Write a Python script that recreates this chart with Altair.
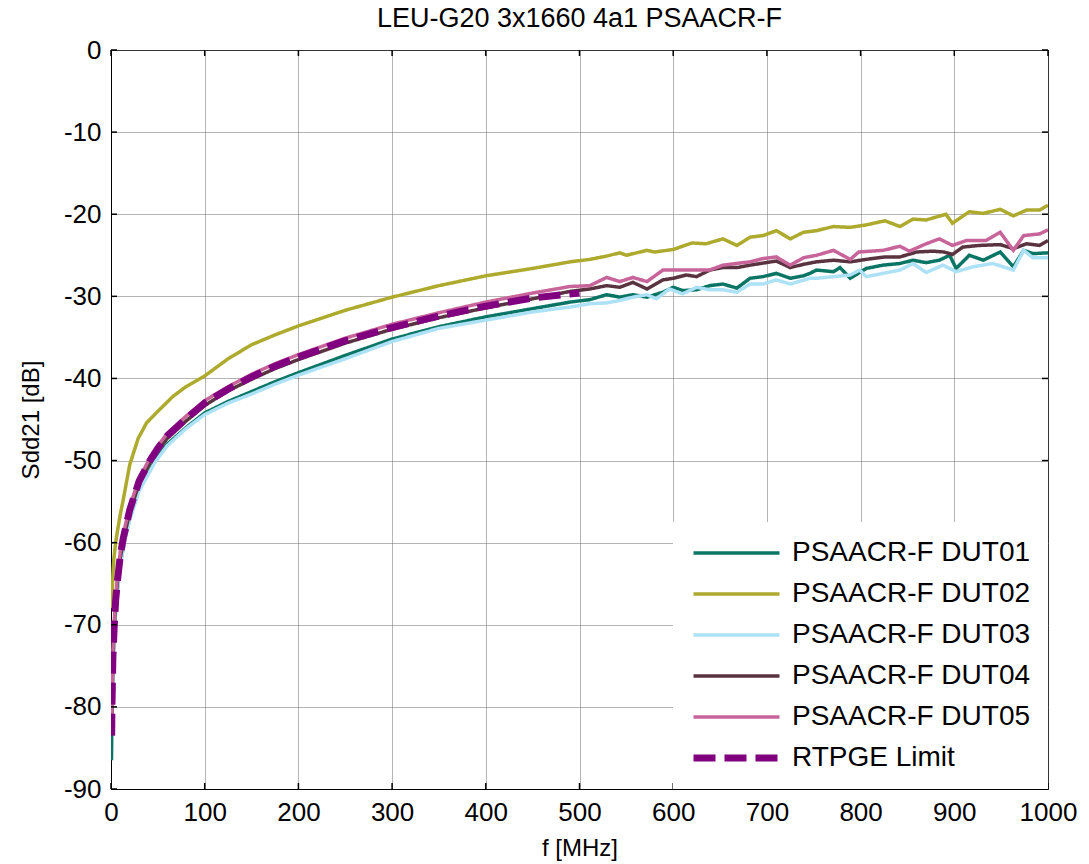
import altair as alt
import pandas as pd

names = ["PSAACR-F DUT01", "PSAACR-F DUT02", "PSAACR-F DUT03",
         "PSAACR-F DUT04", "PSAACR-F DUT05", "RTPGE Limit"]
colors = ["#0b7565", "#adaa2e", "#ade1f5", "#5a3340", "#c7659a", "#800080"]

x_ticks = [0, 100, 200, 300, 400, 500, 600, 700, 800, 900, 1000]
y_ticks = [0, -10, -20, -30, -40, -50, -60, -70, -80, -90]

f_dut01 = [0.5, 1, 2, 3.5, 5, 7, 10, 15, 20, 30, 47, 60, 80, 100, 125, 150, 175, 200, 250, 300,
           350, 400, 450, 490, 511, 529, 543, 557, 572, 589, 600, 610, 625, 639, 653, 668, 682,
           696, 710, 725, 739, 746, 753, 771, 778, 789, 806, 824, 842, 856, 870, 884, 895, 902,
           916, 931, 949, 963, 974, 984, 1000]
db_dut01 = [-86.5, -81, -75, -71, -68, -65.5, -62.5, -59.4, -57, -53.5, -50, -48, -46, -44.2, -42.8,
            -41.6, -40.4, -39.3, -37.2, -35.2, -33.7, -32.5, -31.5, -30.7, -30.4, -29.8, -30.1,
            -29.8, -30.1, -29.5, -28.9, -29.3, -29.2, -28.7, -28.5, -29.0, -27.8, -27.6, -27.2,
            -27.8, -27.5, -27.2, -26.8, -27.0, -26.5, -27.8, -26.6, -26.2, -26.0, -25.6, -25.9,
            -25.6, -25.0, -26.6, -25.0, -25.6, -24.6, -26.4, -24.4, -24.8, -24.7]

f_dut02 = [0.5, 2, 3, 5, 7, 10, 13, 20, 29, 38, 50, 66, 80, 100, 125, 150, 175, 200, 250, 300,
           350, 400, 450, 490, 511, 529, 543, 550, 572, 580, 600, 620, 635, 653, 668, 682, 696,
           710, 725, 739, 753, 771, 789, 806, 826, 842, 856, 870, 891, 898, 916, 931, 949, 963,
           977, 991, 1000]
db_dut02 = [-68, -64, -62, -60, -58.5, -56.5, -54.8, -50.5, -47.3, -45.4, -44.0, -42.2, -41.0,
            -39.7, -37.6, -35.9, -34.7, -33.6, -31.7, -30.1, -28.7, -27.5, -26.6, -25.8, -25.5,
            -25.1, -24.7, -25.0, -24.4, -24.6, -24.3, -23.5, -23.6, -23.0, -23.8, -22.8, -22.6,
            -22.0, -23.0, -22.2, -22.0, -21.5, -21.6, -21.3, -20.8, -21.5, -20.6, -20.7, -20.0,
            -21.1, -19.7, -19.9, -19.4, -20.2, -19.5, -19.5, -18.9]

f_dut03 = [1, 2, 3.5, 5, 7, 10, 15, 20, 30, 47, 60, 80, 100, 125, 150, 175, 200, 250, 300, 350,
           400, 450, 490, 511, 529, 543, 557, 572, 582, 596, 610, 625, 639, 653, 668, 682, 696,
           710, 725, 746, 753, 771, 789, 799, 806, 824, 842, 856, 870, 888, 902, 920, 941, 963,
           974, 984, 1000]
db_dut03 = [-81.5, -75.3, -71.2, -68.2, -65.7, -62.7, -59.6, -57.2, -53.7, -50.2, -48.2, -46.1,
            -44.4, -43.0, -41.9, -40.7, -39.6, -37.6, -35.5, -33.9, -32.9, -31.9, -31.3, -30.9,
            -30.8, -30.5, -30.1, -29.8, -30.3, -29.1, -29.7, -28.9, -29.2, -29.2, -29.5, -28.5,
            -28.5, -28.0, -28.5, -27.8, -27.8, -27.6, -27.4, -26.8, -27.6, -27.2, -26.8, -26.0,
            -27.1, -26.2, -27.0, -26.4, -26.0, -26.8, -24.4, -25.3, -25.3]

f_dut04 = [0.7, 1, 2, 3.5, 5, 7, 10, 15, 20, 30, 42, 50, 60, 80, 100, 125, 150, 175, 200, 250,
           300, 350, 400, 450, 490, 511, 529, 543, 557, 572, 589, 600, 614, 625, 639, 653, 668,
           682, 710, 725, 739, 753, 771, 789, 806, 826, 842, 860, 877, 889, 898, 909, 927, 949,
           963, 977, 991, 1000]
db_dut04 = [-83, -80.3, -74.3, -70.2, -67.2, -64.7, -61.8, -58.8, -56.3, -52.8, -50.2, -48.8,
            -47.3, -45.2, -43.3, -41.5, -40.1, -38.8, -37.7, -35.7, -34.0, -32.6, -31.4, -30.3,
            -29.4, -29.1, -28.7, -28.9, -28.3, -29.1, -28.0, -27.8, -27.4, -27.6, -26.8, -26.5,
            -26.5, -26.2, -25.7, -26.5, -26.1, -25.8, -25.6, -25.8, -25.5, -25.2, -25.2, -24.6,
            -24.5, -24.6, -24.9, -24.0, -23.8, -23.7, -24.2, -23.6, -23.8, -23.2]

f_dut05 = [0.7, 1, 2, 3.5, 5, 7, 10, 15, 20, 30, 42, 50, 60, 80, 100, 125, 150, 175, 200, 250,
           300, 350, 400, 450, 490, 511, 529, 543, 557, 572, 589, 614, 639, 653, 682, 696, 710,
           725, 739, 753, 771, 789, 798, 824, 842, 852, 870, 884, 898, 913, 934, 949, 963, 974,
           991, 1000]
db_dut05 = [-82, -79.5, -73.5, -69.5, -66.5, -64, -61, -58, -55.6, -52.2, -49.6, -48.2, -46.7,
            -44.6, -42.7, -41.0, -39.5, -38.2, -37.1, -35.1, -33.4, -32.0, -30.7, -29.6, -28.8,
            -28.7, -27.7, -28.2, -27.7, -28.2, -26.8, -26.8, -26.8, -26.2, -25.8, -25.4, -25.2,
            -26.2, -25.3, -25.0, -24.4, -25.5, -24.6, -24.4, -23.9, -24.5, -23.6, -23.0, -23.8,
            -23.2, -23.2, -22.2, -24.4, -22.6, -22.4, -21.9]

f_limit = [0.7, 1, 2, 3.5, 5, 7, 10, 13, 15, 20, 30, 41.6, 50, 60, 79, 100, 125, 150, 175, 200,
           250, 300, 350, 400, 450, 500]
db_limit = [-83.5, -80, -74, -70, -67, -64.5, -61.5, -59.5, -58.5, -56, -52.5, -50, -48.5, -47,
            -45, -43, -41.3, -39.8, -38.5, -37.4, -35.4, -33.8, -32.4, -31.2, -30.2, -29.6]

all_f = [f_dut01, f_dut02, f_dut03, f_dut04, f_dut05, f_limit]
all_db = [db_dut01, db_dut02, db_dut03, db_dut04, db_dut05, db_limit]

rows = []
for i, (name, fs, ds) in enumerate(zip(names, all_f, all_db)):
    for j, (f, d) in enumerate(zip(fs, ds)):
        rows.append({"f": f, "dB": d, "series": name, "z": i, "k": j})
df = pd.DataFrame(rows)

FONT = "Liberation Sans"
W, H = 937, 739
TICK = 6

legend = alt.Legend(
    title=None, orient="bottom-right", offset=0, fillColor="white",
    padding=17, labelFontSize=28, labelFont=FONT, labelColor="black", labelLimit=0,
    symbolType="stroke", symbolSize=86 * 86, labelOffset=9, rowPadding=13, clipHeight=28,
)

x_enc = alt.X("f:Q", scale=alt.Scale(domain=[0, 1000], nice=False),
              axis=alt.Axis(values=x_ticks, title="f [MHz]", labelExpr="'' + datum.value"))
y_enc = alt.Y("dB:Q", scale=alt.Scale(domain=[-90, 0], nice=False),
              axis=alt.Axis(values=y_ticks, title="Sdd21 [dB]", labelExpr="'' + datum.value"))

lines = alt.Chart(df).mark_line(clip=True).encode(
    x=x_enc,
    y=y_enc,
    color=alt.Color("series:N", scale=alt.Scale(domain=names, range=colors), legend=legend),
    strokeDash=alt.StrokeDash("series:N",
                              scale=alt.Scale(type="ordinal", domain=names,
                                              range=[[1, 0]] * 5 + [[22, 9]]),
                              legend=legend),
    strokeWidth=alt.StrokeWidth("series:N",
                                scale=alt.Scale(type="ordinal", domain=names,
                                                range=[3.5] * 5 + [7]),
                                legend=legend),
    order="k:Q",
)

xt = pd.DataFrame({"f": x_ticks})
yt = pd.DataFrame({"dB": y_ticks})
tick_style = dict(color="black", strokeWidth=1.5)
ticks_bottom = alt.Chart(xt).mark_rule(**tick_style).encode(
    x="f:Q", y=alt.value(H), y2=alt.value(H - TICK))
ticks_top = alt.Chart(xt).mark_rule(**tick_style).encode(
    x="f:Q", y=alt.value(0), y2=alt.value(TICK))
ticks_left = alt.Chart(yt).mark_rule(**tick_style).encode(
    y="dB:Q", x=alt.value(0), x2=alt.value(TICK))
ticks_right = alt.Chart(yt).mark_rule(**tick_style).encode(
    y="dB:Q", x=alt.value(W), x2=alt.value(W - TICK))

chart = alt.layer(lines, ticks_bottom, ticks_top, ticks_left, ticks_right).properties(
    width=W, height=H,
    title=alt.TitleParams("LEU-G20 3x1660 4a1 PSAACR-F", fontSize=27, font=FONT,
                          fontWeight="normal", color="black", offset=4),
).configure_view(stroke="black", strokeWidth=1).configure_axis(
    labelFont=FONT, labelFontSize=26, labelColor="black", labelFlush=False,
    titleFont=FONT, titleFontSize=24, titleFontWeight="normal", titleColor="black",
    domainColor="black", tickSize=0, labelPadding=10,
    gridColor="#6a6a6a", gridDash=[1, 1], gridWidth=1,
).configure_axisY(titlePadding=20).configure_axisX(titlePadding=11).properties(
    autosize=alt.AutoSizeParams(type="none"),
    padding={"left": 111, "top": 50, "right": 41, "bottom": 75},
)

chart.save("out.html", embed_options={"renderer": "svg", "actions": False})
